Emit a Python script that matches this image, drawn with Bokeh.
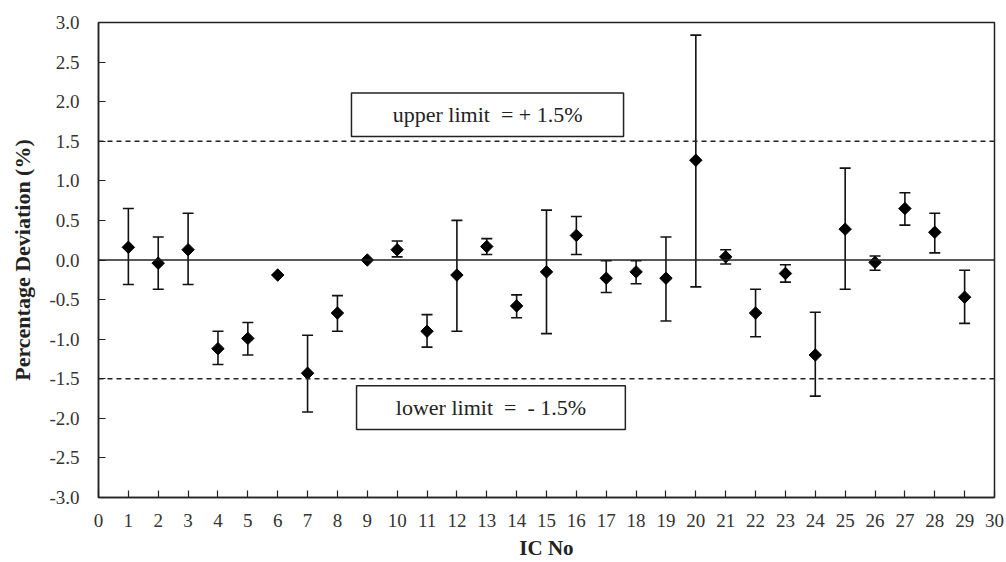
from bokeh.plotting import figure
from bokeh.models import Whisker, ColumnDataSource, Span, BoxAnnotation, Label, FixedTicker, Range1d
from bokeh.embed import file_html
from bokeh.resources import INLINE
import math

ic_no = list(range(1, 30))
deviation = [0.16, -0.04, 0.13, -1.12, -0.99, -0.19, -1.43, -0.67, 0.00, 0.13,
             -0.90, -0.19, 0.17, -0.58, -0.15, 0.31, -0.23, -0.15, -0.23, 1.26,
             0.04, -0.67, -0.17, -1.20, 0.39, -0.03, 0.65, 0.35, -0.47]
err_upper = [0.65, 0.29, 0.59, -0.90, -0.79, -0.19, -0.95, -0.45, 0.00, 0.24,
             -0.69, 0.50, 0.27, -0.44, 0.63, 0.55, -0.01, -0.01, 0.29, 2.84,
             0.13, -0.37, -0.06, -0.66, 1.16, 0.05, 0.85, 0.59, -0.13]
err_lower = [-0.31, -0.37, -0.31, -1.32, -1.20, -0.19, -1.92, -0.90, 0.00, 0.04,
             -1.10, -0.90, 0.07, -0.73, -0.93, 0.07, -0.41, -0.30, -0.77, -0.34,
             -0.05, -0.97, -0.28, -1.72, -0.37, -0.13, 0.44, 0.09, -0.80]
x_ticks = list(range(0, 31))
y_ticks = [-3.0, -2.5, -2.0, -1.5, -1.0, -0.5, 0.0, 0.5, 1.0, 1.5, 2.0, 2.5, 3.0]
upper_limit = 1.5
lower_limit = -1.5
NB = "\u00a0"
upper_text = f"upper limit{NB}{NB}={NB}+{NB}1.5%"
lower_text = f"lower limit{NB}{NB}={NB}{NB}-{NB}1.5%"

FONT = "Liberation Serif"

src = ColumnDataSource(dict(x=ic_no, y=deviation, upper=err_upper, lower=err_lower))

p = figure(width=1006, height=562, output_backend="svg", toolbar_location=None,
           x_range=Range1d(0, 30), y_range=Range1d(-3, 3),
           min_border_left=98, min_border_right=12, min_border_top=22, min_border_bottom=64)
p.background_fill_color = "white"
p.border_fill_color = "white"
p.outline_line_color = "#222222"
p.outline_line_width = 1.5
p.xgrid.visible = False
p.ygrid.visible = False

for ax in (p.xaxis[0], p.yaxis[0]):
    ax.axis_line_color = "#222222"
    ax.axis_line_width = 1.5
    ax.major_tick_in = 7
    ax.major_tick_out = 0
    ax.major_tick_line_color = "#222222"
    ax.major_tick_line_width = 1.2
    ax.minor_tick_line_color = None
    ax.major_label_text_font = FONT
    ax.major_label_text_font_size = "19px"
    ax.major_label_text_color = "#333333"
    ax.axis_label_text_font = FONT
    ax.axis_label_text_font_style = "bold"
    ax.axis_label_text_color = "#222222"

p.xaxis.ticker = FixedTicker(ticks=x_ticks)
p.yaxis.ticker = FixedTicker(ticks=y_ticks)
p.yaxis.major_label_overrides = {t: f"{t:.1f}" for t in y_ticks}
p.xaxis.major_label_standoff = 16
p.yaxis.major_label_standoff = 19
p.xaxis.axis_label = "IC No"
p.yaxis.axis_label = "Percentage Deviation (%)"
p.xaxis.axis_label_text_font_size = "21px"
p.yaxis.axis_label_text_font_size = "22px"
p.xaxis.axis_label_standoff = 6
p.yaxis.axis_label_standoff = 11

p.add_layout(Span(location=0, dimension="width", line_color="#222222", line_width=1.3))
p.add_layout(Span(location=upper_limit, dimension="width", line_color="#222222",
                  line_width=1.3, line_dash="5 4"))
p.add_layout(Span(location=lower_limit, dimension="width", line_color="#222222",
                  line_width=1.3, line_dash="5 4"))

w = Whisker(source=src, base="x", upper="upper", lower="lower", dimension="height",
            line_color="#111111", line_width=1.6)
w.upper_head.size = 11
w.lower_head.size = 11
w.upper_head.line_width = 1.6
w.lower_head.line_width = 1.6
w.upper_head.line_color = "#111111"
w.lower_head.line_color = "#111111"
p.add_layout(w)

p.scatter("x", "y", source=src, marker="square", angle=math.pi / 4, size=8.8,
          fill_color="black", line_color="black")

p.add_layout(BoxAnnotation(left=8.47, right=17.58, bottom=1.56, top=2.11,
                           fill_color="white", fill_alpha=1.0,
                           line_color="#222222", line_alpha=1.0, line_width=1.5))
p.add_layout(BoxAnnotation(left=8.64, right=17.64, bottom=-2.14, top=-1.587,
                           fill_color="white", fill_alpha=1.0,
                           line_color="#222222", line_alpha=1.0, line_width=1.5))
p.add_layout(Label(x=13.03, y=1.835, text=upper_text, text_align="center",
                   text_baseline="middle", text_font=FONT, text_font_size="22px",
                   text_color="#222222"))
p.add_layout(Label(x=13.14, y=-1.862, text=lower_text, text_align="center",
                   text_baseline="middle", text_font=FONT, text_font_size="22px",
                   text_color="#222222"))

open("out.html", "w").write(file_html(p, INLINE))
